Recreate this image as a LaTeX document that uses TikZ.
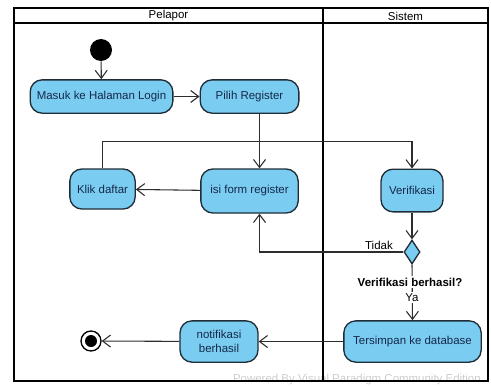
\documentclass[tikz,border=0pt]{standalone}
\usepackage{fontspec}
\setmainfont{Liberation Sans}
\usetikzlibrary{shapes.geometric,arrows.meta}

\begin{document}
\begin{tikzpicture}[x=0.75pt,y=0.75pt,yscale=-1,
  font=\fontsize{8.6}{10}\selectfont,
  act/.style={draw={rgb, 255:red, 30; green, 45; blue, 55},line width=1pt,fill={rgb, 255:red, 122; green, 205; blue, 240},rounded corners=9pt,align=center,inner sep=0.75pt,text={rgb, 255:red, 20; green, 40; blue, 75}},
  flow/.style={draw={rgb, 255:red, 45; green, 45; blue, 45},line width=0.8pt,-{Straight Barb[length=6pt,width=9pt]}},
  lane/.style={draw=black,line width=1.5pt}]
\useasboundingbox (0,0) rectangle (491,385);

% Text Node
\node (vp) [anchor=south east,text={rgb, 255:red, 205; green, 205; blue, 205},inner sep=0pt] at (481,385) {Powered By Visual Paradigm Community Edition};

%Shape: Swimlanes
\draw [lane] (14,8) rectangle (488,381) ;
\draw [lane] (14,23) -- (488,23) ;
\draw [lane] (323,8) -- (323,381) ;
% Text Node
\node (pelapor) at (168.5,16) {Pelapor};
% Text Node
\node (sistem) at (405.5,16) {Sistem};

%Shape: Initial
\node (init) [circle,fill=black,minimum size=16.5pt,inner sep=0pt] at (101,50) {};
%Shape: Actions
\node (login) [act,minimum width=107pt,minimum height=25pt] at (101.5,96.5) {Masuk ke Halaman Login};
\node (pilih) [act,minimum width=74pt,minimum height=25pt] at (249.5,96.5) {Pilih Register};
\node (isi) [act,minimum width=73pt,minimum height=33pt] at (249.5,191) {isi form register};
\node (klik) [act,minimum width=49pt,minimum height=30pt] at (102.5,189) {Klik daftar};
\node (verif) [act,minimum width=46.5pt,minimum height=32pt] at (412,190.5) {Verifikasi};
%Shape: Decision
\node (dec) [diamond,draw={rgb, 255:red, 30; green, 45; blue, 55},line width=1pt,fill={rgb, 255:red, 122; green, 205; blue, 240},minimum width=12pt,minimum height=18pt,inner sep=0pt] at (412,252) {};
\node (simpan) [act,minimum width=103pt,minimum height=31pt] at (412.5,341.5) {Tersimpan ke database};
\node (notif) [act,minimum width=58.5pt,minimum height=31pt] at (219,341.5) {notifikasi\\berhasil};
%Shape: Final
\node (final) [circle,draw=black,line width=1pt,fill=white,minimum size=15pt,inner sep=0pt] at (91,341) {};
\node (finaldot) [circle,fill=black,minimum size=9pt,inner sep=0pt] at (final.center) {};

%Connectors
\draw [flow] (init) -- (login) ;
\draw [flow] (login) -- (pilih) ;
\draw [flow] ([xshift=7.5pt]pilih.south) -- ([xshift=7.5pt]isi.north) ;
\draw [flow] (isi) -- (klik) ;
\draw [flow] (klik.north) -- ++(0,-27) -| (verif.north) ;
\draw [flow] (verif) -- (dec) ;
\draw [flow] (dec.west) -| ([xshift=7.5pt]isi.south) ;
\draw [flow] (dec.south) -- (simpan.north) ;

% Text Node
\node (tidak) [anchor=south east,inner sep=0.75pt] at (394,251) {Tidak};
% Text Node
\node (syarat) [font=\fontsize{8.6}{10}\selectfont\bfseries,fill=white,inner sep=1pt] at (410,282) {Verifikasi berhasil?};
% Text Node
\node (ya) [fill=white,inner sep=1pt] at (412,297.5) {Ya};

\draw [flow] (simpan) -- (notif) ;
\draw [flow] (notif) -- (final) ;
\end{tikzpicture}
\end{document}
